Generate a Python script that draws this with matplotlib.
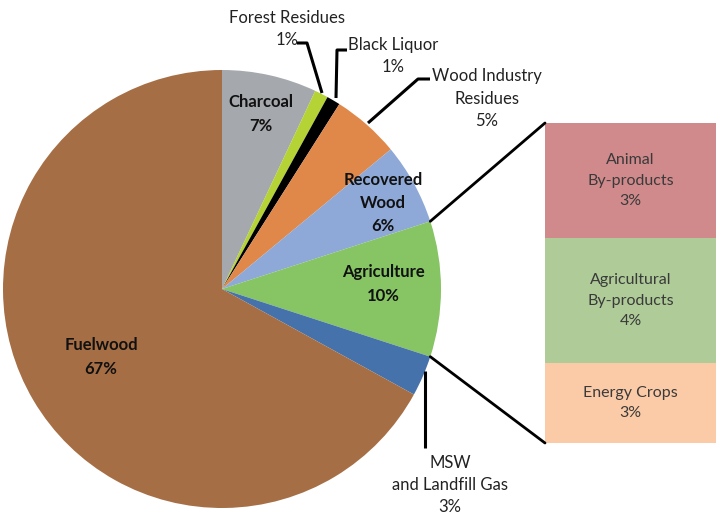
import numpy as np
import matplotlib.pyplot as plt
from matplotlib.patches import ConnectionPatch

plt.rcParams['font.family'] = ['Lato', 'DejaVu Sans']

# ── Données ──
pie_names = ["Charcoal", "Forest Residues", "Black Liquor", "Wood Industry\nResidues",
             "Recovered\nWood", "Agriculture", "MSW\nand Landfill Gas", "Fuelwood"]
pie_pct = [7, 1, 1, 5, 6, 10, 3, 67]
pie_colors = ["#A5A8AC", "#B5D334", "#000000", "#E0874A",
              "#8EA9D8", "#86C464", "#4672AC", "#A66E45"]

# sous-détail de "Agriculture" (de haut en bas)
bar_names = ["Animal\nBy-products", "Agricultural\nBy-products", "Energy Crops"]
bar_pct = [3, 4, 3]
bar_size = [3.6, 3.9, 2.5]   # hauteurs
bar_colors = ["#D08A8C", "#AECB98", "#FBCBA8"]

W, H = 716, 519
FS = 12
fig = plt.figure(figsize=(W / 100, H / 100), dpi=100)
ax = fig.add_axes([0, 0, 1, 1])

cx, cy, r = 222, H - 289, 219
wedges, _ = ax.pie(pie_pct, colors=pie_colors, startangle=90, counterclock=False,
                   radius=r, center=(cx, cy), frame=True,
                   wedgeprops=dict(linewidth=0))
ax.set_xlim(0, W)
ax.set_ylim(0, H)
ax.set_aspect("equal")
ax.axis("off")

def px(x, y):
    return x, H - y

# ── étiquettes intérieures (gras) ──
inner = {0: (261, 114), 4: (383, 203), 5: (383, 284), 7: (101, 357)}
for i, (x, y) in inner.items():
    ax.text(*px(x, y), f"{pie_names[i]}\n{pie_pct[i]}%", ha="center", va="center",
            fontsize=FS, fontweight="bold", color="#111111", linespacing=1.55)

# ── étiquettes extérieures avec traits ──
outer = {1: (287, 29), 2: (393, 56), 3: (487, 99), 6: (450, 485)}
for i, (x, y) in outer.items():
    ax.text(*px(x, y), f"{pie_names[i]}\n{pie_pct[i]}%", ha="center", va="center",
            fontsize=FS, color="#222222", linespacing=1.5)

leaders = [
    [(297, 43), (307, 43), (322, 93)],
    [(347, 50), (337, 50), (336, 98)],
    [(430, 79), (418, 79), (368, 123)],
    [(425, 371), (425, 448)],
]
for pts in leaders:
    xs = [p[0] for p in pts]
    ys = [H - p[1] for p in pts]
    ax.plot(xs, ys, color="black", lw=2.2, solid_capstyle="butt")

# ── barre de détail ──
bx0, by_top, by_bot = 545, 123, 443
ax2 = fig.add_axes([bx0 / W, (H - by_bot) / H, (W - bx0) / W, (by_bot - by_top) / H])
bottom = 0
for name, p, s, c in reversed(list(zip(bar_names, bar_pct, bar_size, bar_colors))):
    ax2.bar(0, s, bottom=bottom, width=1, color=c, linewidth=0)
    ax2.text(0, bottom + s / 2, f"{name}\n{p}%", ha="center", va="center",
             fontsize=FS - 0.5, color="#3a3a3a", linespacing=1.6)
    bottom += s
ax2.set_xlim(-0.5, 0.5)
ax2.set_ylim(0, sum(bar_size))
ax2.axis("off")

# ── traits de liaison ──
agri = wedges[5]
for ang, yb in [(agri.theta2, sum(bar_size)), (agri.theta1, 0)]:
    x = cx + r * np.cos(np.radians(ang))
    y = cy + r * np.sin(np.radians(ang))
    con = ConnectionPatch(xyA=(-0.5, yb), coordsA=ax2.transData,
                          xyB=(x, y), coordsB=ax.transData,
                          color="black", lw=2)
    fig.add_artist(con)

fig.savefig("out.png", dpi=100)
